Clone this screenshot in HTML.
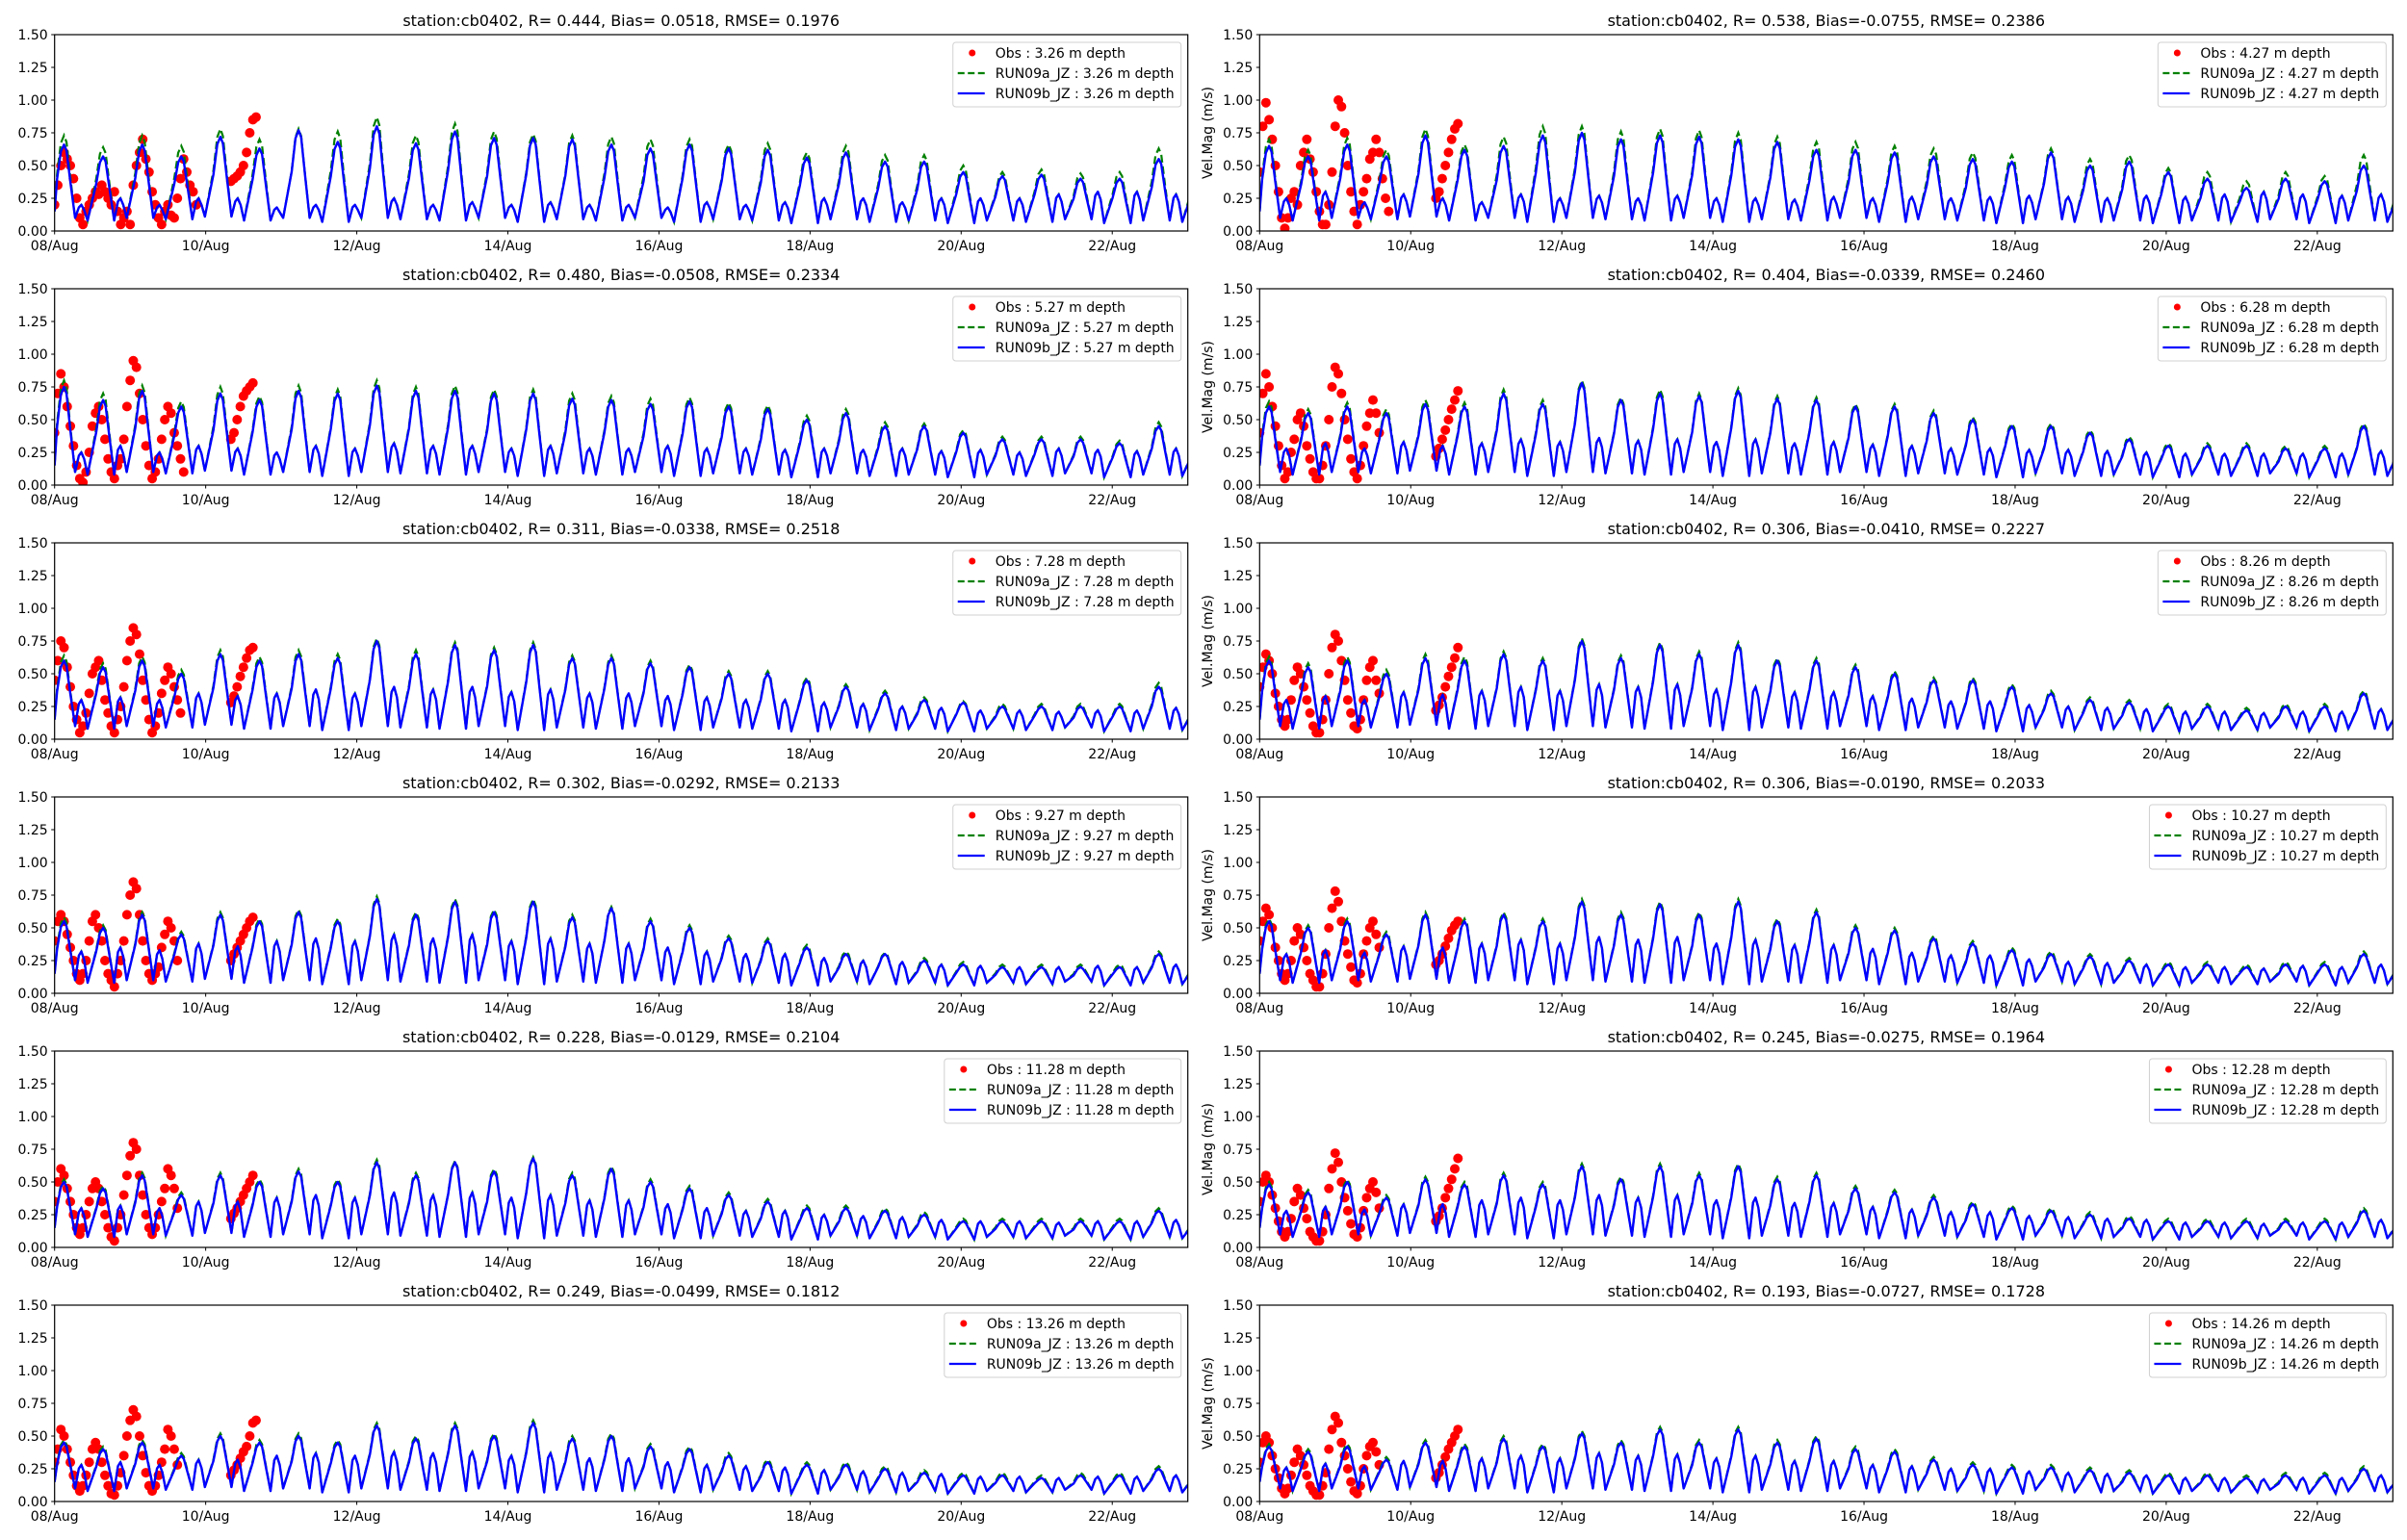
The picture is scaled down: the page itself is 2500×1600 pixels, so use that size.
<!DOCTYPE html>
<html><head><meta charset="utf-8">
<style>
html,body{margin:0;padding:0;background:#fff;}
svg{display:block;}
text{font-family:"DejaVu Sans","Liberation Sans",sans-serif;font-size:14px;fill:#000;}
text.ttl{font-size:16px;}
</style></head>
<body>
<svg id="fig" width="2500" height="1600" viewBox="0 0 2500 1600" xmlns="http://www.w3.org/2000/svg"></svg>
<script>
// ---- data ----
const depths=["3.26","5.27","7.28","9.27","11.28","13.26","4.27","6.28","8.26","10.27","12.28","14.26"];
const statR=["0.444","0.480","0.311","0.302","0.228","0.249","0.538","0.404","0.306","0.306","0.245","0.193"];
const statBias=[" 0.0518","-0.0508","-0.0338","-0.0292","-0.0129","-0.0499","-0.0755","-0.0339","-0.0410","-0.0190","-0.0275","-0.0727"];
const statRMSE=["0.1976","0.2334","0.2518","0.2133","0.2104","0.1812","0.2386","0.2460","0.2227","0.2033","0.1964","0.1728"];
const xTickLabels=["08/Aug","10/Aug","12/Aug","14/Aug","16/Aug","18/Aug","20/Aug","22/Aug"];
const xTickHours=[0,48,96,144,192,240,288,336];
const yTicks=[0,0.25,0.5,0.75,1.0,1.25,1.5];
const troughs=[.10,.08,.10,.09,.11,.08,.10,.07,.10,.09,.08,.10,.07,.09,.08,.10,.07,.09,.08,.06,.09,.07,.08,.06,.08,.07,.09,.06,.08,.07];
const peaksB=[
[.66,.57,.66,.57,.72,.63,.77,.68,.80,.67,.76,.71,.71,.70,.66,.63,.66,.63,.62,.56,.60,.53,.53,.45,.42,.43,.40,.40,.55,.40],
[.75,.65,.72,.60,.70,.65,.72,.70,.76,.72,.72,.70,.70,.66,.65,.62,.64,.60,.58,.50,.55,.45,.45,.40,.35,.35,.35,.32,.45,.30],
[.60,.55,.60,.50,.65,.60,.65,.62,.75,.65,.72,.68,.72,.62,.62,.58,.55,.50,.50,.45,.40,.35,.30,.28,.25,.25,.25,.25,.40,.25],
[.55,.50,.60,.45,.60,.55,.62,.55,.72,.60,.70,.62,.70,.58,.65,.55,.50,.42,.40,.35,.30,.30,.25,.22,.20,.20,.20,.20,.30,.22],
[.50,.45,.55,.40,.55,.50,.58,.50,.65,.55,.65,.58,.68,.55,.60,.50,.45,.40,.35,.30,.30,.28,.25,.20,.20,.20,.20,.20,.28,.20],
[.45,.40,.45,.35,.50,.45,.50,.45,.58,.48,.58,.50,.60,.48,.50,.42,.40,.35,.30,.28,.28,.25,.22,.20,.20,.18,.20,.20,.25,.20],
[.65,.57,.66,.57,.73,.62,.65,.73,.75,.70,.73,.72,.70,.68,.62,.62,.60,.57,.55,.53,.60,.50,.53,.45,.40,.33,.40,.38,.50,.35],
[.60,.55,.60,.55,.62,.60,.70,.62,.78,.65,.70,.68,.72,.66,.65,.60,.60,.55,.50,.45,.45,.40,.35,.30,.30,.30,.28,.28,.45,.30],
[.60,.55,.60,.50,.62,.60,.65,.60,.75,.62,.72,.65,.72,.60,.60,.55,.50,.45,.45,.40,.35,.30,.28,.25,.25,.22,.25,.25,.35,.25],
[.55,.50,.55,.45,.60,.55,.60,.55,.70,.60,.68,.60,.70,.55,.62,.50,.48,.42,.38,.33,.30,.28,.25,.22,.22,.20,.22,.22,.30,.22],
[.48,.42,.50,.38,.52,.48,.55,.48,.62,.52,.62,.55,.62,.52,.55,.45,.42,.38,.33,.30,.28,.25,.22,.20,.20,.20,.20,.20,.28,.20],
[.42,.38,.42,.32,.45,.42,.48,.42,.52,.45,.55,.45,.55,.45,.48,.40,.38,.32,.28,.26,.26,.24,.22,.20,.20,.18,.20,.20,.25,.20]];
const peaksA=[
[.73,.64,.73,.65,.78,.70,.78,.76,.87,.73,.82,.76,.74,.73,.72,.70,.70,.66,.67,.60,.65,.58,.58,.50,.45,.47,.44,.45,.63,.45],
[.80,.70,.76,.64,.75,.68,.76,.73,.80,.75,.76,.73,.73,.70,.68,.66,.67,.63,.61,.53,.58,.48,.47,.42,.37,.37,.37,.34,.48,.32],
[.64,.58,.63,.53,.68,.63,.68,.65,.77,.68,.74,.70,.74,.64,.64,.60,.57,.52,.52,.47,.42,.37,.32,.29,.27,.27,.27,.27,.43,.27],
[.58,.52,.62,.47,.62,.57,.64,.57,.74,.62,.72,.64,.72,.60,.66,.57,.52,.44,.42,.37,.32,.31,.27,.24,.22,.22,.22,.22,.32,.24],
[.52,.47,.57,.42,.57,.52,.60,.52,.67,.57,.66,.60,.69,.57,.62,.52,.47,.42,.37,.32,.32,.30,.27,.22,.22,.22,.22,.22,.30,.22],
[.47,.42,.47,.37,.52,.47,.52,.47,.60,.50,.60,.52,.62,.50,.52,.44,.42,.37,.32,.30,.30,.27,.24,.22,.22,.20,.22,.22,.27,.22],
[.70,.62,.71,.62,.78,.66,.72,.80,.80,.76,.78,.77,.75,.72,.68,.68,.65,.63,.60,.58,.63,.55,.58,.48,.45,.38,.45,.42,.58,.40],
[.64,.58,.63,.58,.65,.63,.73,.65,.80,.67,.73,.70,.74,.68,.67,.62,.62,.57,.52,.47,.47,.42,.37,.32,.32,.32,.30,.30,.47,.32],
[.63,.58,.63,.53,.65,.63,.67,.62,.77,.64,.74,.67,.74,.62,.62,.57,.52,.47,.47,.42,.37,.32,.30,.27,.27,.24,.27,.27,.37,.27],
[.57,.52,.57,.47,.62,.57,.62,.57,.72,.62,.70,.62,.72,.57,.64,.52,.50,.44,.40,.35,.32,.30,.27,.24,.24,.22,.24,.24,.32,.24],
[.50,.44,.52,.40,.54,.50,.57,.50,.64,.54,.64,.57,.64,.54,.57,.47,.44,.40,.35,.32,.30,.27,.24,.22,.22,.22,.22,.22,.30,.22],
[.44,.40,.44,.34,.47,.44,.50,.44,.54,.47,.57,.47,.57,.47,.50,.42,.40,.34,.30,.28,.28,.26,.24,.22,.22,.20,.22,.22,.27,.22]];
const bumps=[
[.20,.25,.20,.25,.25,.18,.20,.20,.25,.20,.22,.20,.22,.20,.20,.18,.22,.20,.22,.25,.25,.22,.25,.25,.25,.28,.30,.30,.28,.25],
[.25,.30,.25,.30,.28,.25,.30,.28,.32,.30,.30,.28,.30,.28,.28,.30,.28,.28,.27,.28,.27,.28,.26,.27,.25,.28,.27,.26,.28,.25],
[.30,.32,.30,.35,.33,.35,.38,.35,.40,.38,.40,.36,.38,.35,.35,.33,.32,.30,.30,.28,.27,.25,.24,.22,.22,.21,.22,.22,.24,.22],
[.32,.35,.33,.38,.36,.40,.42,.40,.45,.42,.45,.40,.42,.38,.38,.35,.32,.30,.30,.27,.25,.24,.22,.21,.20,.20,.21,.20,.22,.20],
[.30,.32,.30,.35,.35,.38,.40,.38,.42,.40,.42,.38,.40,.36,.36,.33,.30,.28,.28,.25,.24,.23,.21,.20,.20,.19,.20,.20,.21,.19],
[.28,.30,.28,.32,.32,.35,.37,.35,.38,.37,.38,.35,.37,.33,.33,.30,.28,.27,.26,.24,.23,.22,.21,.19,.19,.18,.19,.19,.20,.18],
[.25,.30,.22,.28,.25,.22,.28,.25,.27,.25,.27,.25,.25,.24,.26,.25,.26,.25,.26,.27,.26,.25,.27,.26,.28,.30,.28,.27,.28,.26],
[.28,.32,.28,.33,.30,.32,.35,.33,.36,.34,.35,.33,.35,.32,.33,.31,.30,.28,.28,.27,.27,.26,.25,.24,.24,.24,.24,.24,.26,.24],
[.30,.33,.30,.36,.34,.37,.40,.37,.42,.40,.42,.38,.40,.36,.36,.33,.31,.29,.29,.26,.25,.24,.23,.21,.21,.20,.21,.21,.23,.21],
[.30,.33,.31,.36,.35,.38,.41,.38,.43,.41,.43,.38,.41,.37,.37,.34,.31,.29,.29,.26,.24,.23,.22,.20,.20,.19,.21,.20,.22,.20],
[.28,.31,.29,.33,.33,.36,.38,.36,.40,.38,.40,.36,.38,.34,.34,.31,.29,.27,.27,.24,.23,.22,.21,.19,.19,.18,.19,.19,.21,.19],
[.26,.29,.27,.31,.31,.33,.35,.33,.37,.35,.36,.33,.35,.31,.31,.28,.27,.25,.25,.23,.22,.21,.20,.18,.18,.17,.18,.18,.20,.18]];
// observations: hourly values from 08/Aug 00:00 (null = missing)
const obsEarly=[
[.20,.35,.50,.60,.55,.50,.40,.25,.10,.05,.15,.20,.25,.30,.28,.35,.30,.25,.20,.30,.15,.05,.10,.15,.05,.35,.50,.60,.70,.55,.45,.30,.20,.10,.05,.15,.20,.12,.10,.25,.40,.55,.45,.35,.30,.20],
[.40,.70,.85,.75,.60,.45,.30,.15,.05,.02,.10,.25,.45,.55,.60,.50,.35,.20,.10,.05,.15,.20,.35,.60,.80,.95,.90,.70,.50,.30,.15,.05,.10,.20,.35,.50,.60,.55,.40,.30,.20,.10,null,null,null,null],
[.45,.60,.75,.70,.55,.40,.25,.15,.05,.10,.20,.35,.50,.55,.60,.45,.30,.20,.10,.05,.15,.25,.40,.60,.75,.85,.80,.65,.45,.30,.15,.05,.10,.20,.35,.45,.55,.50,.40,.30,.20,null,null,null,null,null],
[.40,.55,.60,.55,.45,.35,.25,.15,.10,.15,.25,.40,.55,.60,.50,.40,.25,.15,.10,.05,.15,.25,.40,.60,.75,.85,.80,.60,.40,.25,.15,.10,.15,.20,.35,.45,.55,.50,.40,.25,null,null,null,null,null,null],
[.35,.50,.60,.55,.45,.35,.25,.15,.10,.15,.25,.35,.45,.50,.45,.35,.25,.15,.08,.05,.15,.25,.40,.55,.70,.80,.75,.55,.40,.25,.15,.10,.15,.25,.35,.45,.60,.55,.45,.30,null,null,null,null,null,null],
[.30,.40,.55,.50,.40,.30,.20,.12,.08,.12,.20,.30,.40,.45,.40,.30,.20,.12,.06,.05,.12,.22,.35,.50,.62,.70,.65,.50,.35,.22,.12,.08,.12,.20,.30,.40,.55,.50,.40,.28,null,null,null,null,null,null],
[.45,.80,.98,.85,.70,.50,.30,.10,.02,.10,.25,.30,.20,.50,.60,.70,.55,.45,.30,.15,.05,.05,.20,.45,.80,1.00,.95,.75,.50,.30,.15,.05,.20,.30,.40,.55,.60,.70,.60,.40,.25,.15,null,null,null,null],
[.40,.70,.85,.75,.60,.45,.30,.15,.05,.10,.25,.35,.50,.55,.45,.30,.20,.10,.05,.05,.15,.30,.50,.75,.90,.85,.70,.50,.35,.20,.10,.05,.15,.30,.45,.55,.65,.55,.40,null,null,null,null,null,null,null],
[.40,.55,.65,.60,.50,.35,.25,.15,.10,.15,.30,.45,.55,.50,.40,.30,.20,.10,.05,.05,.15,.30,.50,.70,.80,.75,.60,.45,.30,.20,.10,.08,.15,.30,.45,.55,.60,.45,.35,null,null,null,null,null,null,null],
[.40,.55,.65,.60,.50,.35,.25,.15,.10,.15,.25,.40,.50,.45,.35,.25,.15,.10,.05,.05,.15,.30,.50,.65,.78,.70,.55,.40,.30,.20,.10,.08,.15,.30,.40,.50,.55,.45,.35,null,null,null,null,null,null,null],
[.35,.50,.55,.50,.40,.30,.20,.12,.08,.12,.22,.35,.45,.40,.30,.22,.12,.08,.05,.05,.12,.25,.45,.60,.72,.65,.50,.38,.28,.18,.10,.08,.15,.28,.38,.45,.50,.42,.30,null,null,null,null,null,null,null],
[.30,.45,.50,.45,.35,.25,.18,.10,.06,.10,.20,.30,.40,.35,.28,.20,.12,.08,.05,.05,.12,.22,.40,.55,.65,.60,.45,.35,.25,.15,.08,.06,.12,.25,.35,.42,.45,.38,.28,null,null,null,null,null,null,null]];
// observation cluster starting at 10/Aug 08:00 (hour 56)
const obsLate=[
[.38,.40,.42,.45,.50,.60,.75,.85,.87],
[.35,.40,.50,.60,.68,.72,.75,.78,null],
[.28,.33,.40,.48,.55,.62,.68,.70,null],
[.25,.30,.35,.40,.45,.50,.55,.58,null],
[.22,.26,.30,.35,.40,.45,.50,.55,null],
[.20,.24,.28,.33,.38,.42,.50,.60,.62],
[.25,.30,.40,.50,.60,.70,.78,.82,null],
[.22,.28,.35,.42,.50,.58,.65,.72,null],
[.22,.26,.32,.40,.48,.55,.62,.70,null],
[.22,.25,.30,.36,.42,.48,.52,.55,null],
[.20,.24,.30,.38,.45,.52,.60,.68,null],
[.18,.22,.28,.34,.40,.45,.50,.55,null]];

// ---- layout ----
const NS="http://www.w3.org/2000/svg";
const svg=document.getElementById('fig');
const colLeft=[56.7,1308.3], AW=1177, AH=204, rowTop0=36, rowStep=264, HOURS=360, VMAX=1.5;
function mk(tag,attrs,parent){const e=document.createElementNS(NS,tag);for(const k in attrs)e.setAttribute(k,attrs[k]);(parent||svg).appendChild(e);return e;}

function buildSeries(pk,bp){
  const pts=[[0,0.15]];
  for(let i=0;i<pk.length;i++){
    const tp=3+12.42*i;
    const tn=troughs[(i+1)%troughs.length];
    pts.push([tp-2.2,pk[i]*0.55+tn*0.45],[tp-1,pk[i]*0.92],[tp,pk[i]],[tp+0.8,pk[i]*0.93],[tp+2,pk[i]*0.5+troughs[i]*0.5],
      [tp+3.5,troughs[i]],[tp+4.7,bp[i]*0.9],[tp+5.5,bp[i]],[tp+6.4,bp[i]*0.8],[tp+7.5,tn]);
  }
  return pts;
}

for(let p=0;p<12;p++){
  const col=p<6?0:1, row=p%6;
  const L=colLeft[col], T=rowTop0+row*rowStep;
  const xs=h=>L+h/HOURS*AW;
  const ys=v=>T+AH*(1-v/VMAX);
  const g=mk('g',{});
  
  
  const cp=mk('clipPath',{id:'clip'+p},g);
  mk('rect',{x:L,y:T,width:AW,height:AH},cp);

  const tt=mk('text',{x:L+AW/2,y:T-9,'text-anchor':'middle','class':'ttl'},g);
  tt.textContent='station:cb0402, R= '+statR[p]+', Bias='+statBias[p]+', RMSE= '+statRMSE[p];
  
  

  yTicks.forEach(v=>{
    const y=ys(v);
    mk('line',{x1:L-3.5,x2:L,y1:y,y2:y,stroke:'#000','stroke-width':1},g);
    const t=mk('text',{x:L-7,y:y+5,'text-anchor':'end'},g);
    t.textContent=v.toFixed(2);
    
    
  });
  xTickHours.forEach((h,i)=>{
    const x=xs(h);
    mk('line',{x1:x,x2:x,y1:T+AH,y2:T+AH+3.5,stroke:'#000','stroke-width':1},g);
    const t=mk('text',{x:x,y:T+AH+20,'text-anchor':'middle'},g);
    t.textContent=xTickLabels[i];
    
    
  });
  if(col===1){
    const yl=mk('text',{x:0,y:0,'text-anchor':'middle',transform:'translate(1259,'+(T+AH/2)+') rotate(-90)'},g);
    yl.textContent='Vel.Mag (m/s)';
    
    
  }

  const plot=mk('g',{'clip-path':'url(#clip'+p+')'},g);
  const og=mk('g',{fill:'#ff0000'},plot);
  
  
  obsEarly[p].forEach((v,h)=>{ if(v!==null){ const c=mk('circle',{cx:xs(h),cy:ys(v),r:5},og);
      }});
  obsLate[p].forEach((v,i)=>{ if(v!==null){ const c=mk('circle',{cx:xs(56+i),cy:ys(v),r:5},og);
      }});
  const sA=buildSeries(peaksA[p],bumps[p]);
  const sB=buildSeries(peaksB[p],bumps[p]);
  const la=mk('polyline',{points:sA.map(q=>xs(q[0]).toFixed(1)+','+ys(q[1]).toFixed(1)).join(' '),fill:'none',stroke:'#008000','stroke-width':2.2,'stroke-dasharray':'8,4'},plot);
  
  
  const lb=mk('polyline',{points:sB.map(q=>xs(q[0]).toFixed(1)+','+ys(q[1]).toFixed(1)).join(' '),fill:'none',stroke:'#0000ff','stroke-width':2.4,'stroke-linejoin':'round'},plot);
  
  

  const fr=mk('rect',{x:L,y:T,width:AW,height:AH,fill:'none',stroke:'#000','stroke-width':1.2},g);
  
  

  const lg=mk('g',{},g);
  
  
  const box=mk('rect',{x:0,y:T+8,width:10,height:67,rx:3,fill:'#fff','fill-opacity':0.85,stroke:'#d0d0d0','stroke-width':1},lg);
  const labels=['Obs : '+depths[p]+' m depth','RUN09a_JZ : '+depths[p]+' m depth','RUN09b_JZ : '+depths[p]+' m depth'];
  const texts=labels.map((s,i)=>{const t=mk('text',{x:0,y:T+24+i*21},lg);t.textContent=s;
      return t;});
  let wmax=0; texts.forEach(t=>{wmax=Math.max(wmax,t.getComputedTextLength());});
  const boxR=L+AW-7, tx=boxR-7-wmax, bx=tx-44;
  box.setAttribute('x',bx); box.setAttribute('width',boxR-bx);
  texts.forEach(t=>t.setAttribute('x',tx));
  mk('circle',{cx:bx+20,cy:T+19,r:3.5,fill:'#ff0000'},lg);
  mk('line',{x1:bx+5,x2:bx+33,y1:T+40,y2:T+40,stroke:'#008000','stroke-width':2.2,'stroke-dasharray':'7,3.5'},lg);
  mk('line',{x1:bx+5,x2:bx+33,y1:T+61,y2:T+61,stroke:'#0000ff','stroke-width':2.2},lg);
}
</script>
</body></html>
